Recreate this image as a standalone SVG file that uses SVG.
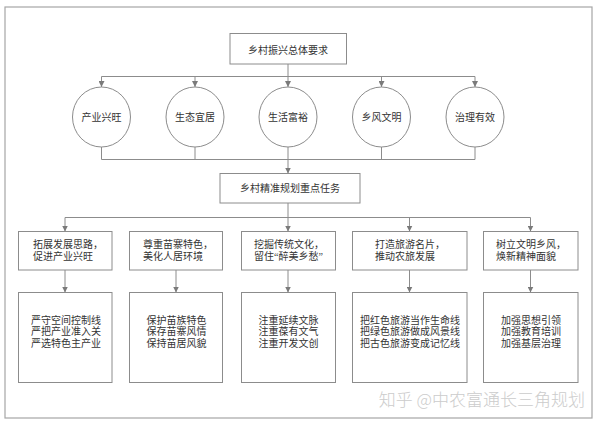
<svg xmlns="http://www.w3.org/2000/svg" width="600" height="425" viewBox="0 0 600 425">
<defs>
<style>
.frame{fill:#ffffff;stroke:#a6a6a6;stroke-width:1.2}
.box{fill:#ffffff;stroke:#8c8c8c;stroke-width:1}
.ln{fill:none;stroke:#8c8c8c;stroke-width:1}
.t{font-family:"Liberation Serif","Noto Sans CJK SC",serif;font-size:10px;fill:#333333}
.c{text-anchor:middle}
.wm{font-family:"Noto Sans CJK SC","Liberation Sans",sans-serif;font-size:17px;font-weight:300;fill:#cccccc;text-anchor:end}
</style>
<marker id="ah" viewBox="0 0 8 8" refX="8" refY="4" markerWidth="6" markerHeight="6" markerUnits="userSpaceOnUse" orient="auto">
<path d="M0,0 L8,4 L0,8 z" fill="#7a7a7a"/>
</marker>
</defs>
<rect width="600" height="425" fill="#ffffff"/>
<rect class="frame" x="5" y="7" width="587" height="411"/>

<g id="connectors">
<path class="ln" d="M288,64 V76.5 M101.5,76.5 H475"/>
<path class="ln" marker-end="url(#ah)" d="M101.5,76.5 V87"/>
<path class="ln" marker-end="url(#ah)" d="M195,76.5 V87"/>
<path class="ln" marker-end="url(#ah)" d="M288,76.5 V87"/>
<path class="ln" marker-end="url(#ah)" d="M381.5,76.5 V87"/>
<path class="ln" marker-end="url(#ah)" d="M475,76.5 V87"/>
<path class="ln" d="M101.5,147 V159.5 M195,147 V159.5 M381.5,147 V159.5 M475,147 V159.5 M101.5,159.5 H475 M288,147 V159.5"/>
<path class="ln" marker-end="url(#ah)" d="M288,159.5 V173.5"/>
<path class="ln" d="M288,203 V217.5 M65,217.5 H530.5"/>
<path class="ln" marker-end="url(#ah)" d="M65,217.5 V231.5"/>
<path class="ln" marker-end="url(#ah)" d="M288,217.5 V231.5"/>
<path class="ln" marker-end="url(#ah)" d="M409.5,217.5 V231.5"/>
<path class="ln" marker-end="url(#ah)" d="M530.5,217.5 V231.5"/>
<path class="ln" marker-end="url(#ah)" d="M65,270 V292.5"/>
<path class="ln" marker-end="url(#ah)" d="M176,270 V292.5"/>
<path class="ln" marker-end="url(#ah)" d="M288,270 V292.5"/>
<path class="ln" marker-end="url(#ah)" d="M409.5,270 V292.5"/>
<path class="ln" marker-end="url(#ah)" d="M530.5,270 V292.5"/>
</g>

<g id="top">
<rect class="box" x="230" y="33.5" width="116.5" height="30.5"/>
<text class="t c" x="288" y="53.5">乡村振兴总体要求</text>
</g>

<g id="c1"><ellipse class="box" cx="101.5" cy="117" rx="29" ry="30"/><text class="t c" x="101.5" y="120.5">产业兴旺</text></g>
<g id="c2"><ellipse class="box" cx="195" cy="117" rx="29" ry="30"/><text class="t c" x="195" y="120.5">生态宜居</text></g>
<g id="c3"><ellipse class="box" cx="288" cy="117" rx="29" ry="30"/><text class="t c" x="288" y="120.5">生活富裕</text></g>
<g id="c4"><ellipse class="box" cx="381.5" cy="117" rx="29" ry="30"/><text class="t c" x="381.5" y="120.5">乡风文明</text></g>
<g id="c5"><ellipse class="box" cx="475" cy="117" rx="29" ry="30"/><text class="t c" x="475" y="120.5">治理有效</text></g>

<g id="mid">
<rect class="box" x="220" y="173.5" width="140" height="29.5"/>
<text class="t c" x="290" y="192">乡村精准规划重点任务</text>
</g>

<g id="r1"><rect class="box" x="18.5" y="231.5" width="93.5" height="38.5"/>
<text class="t" x="33" y="247.8">拓展发展思路，</text><text class="t" x="33" y="259.5">促进产业兴旺</text></g>
<g id="r2"><rect class="box" x="129.5" y="231.5" width="93" height="38.5"/>
<text class="t" x="143" y="247.8">尊重苗寨特色，</text><text class="t" x="143" y="259.5">美化人居环境</text></g>
<g id="r3"><rect class="box" x="241.5" y="231.5" width="94" height="38.5"/>
<text class="t" x="254" y="247.8">挖掘传统文化，</text><text class="t" x="254" y="259.5">留住“醉美乡愁”</text></g>
<g id="r4"><rect class="box" x="352.5" y="231.5" width="114.5" height="38.5"/>
<text class="t" x="375" y="247.8">打造旅游名片，</text><text class="t" x="375" y="259.5">推动农旅发展</text></g>
<g id="r5"><rect class="box" x="483.5" y="231.5" width="94.5" height="38.5"/>
<text class="t" x="496" y="247.8">树立文明乡风，</text><text class="t" x="496" y="259.5">焕新精神面貌</text></g>

<g id="d1"><rect class="box" x="18.5" y="292.5" width="93.5" height="90"/>
<text class="t c" x="66" y="323.5">严守空间控制线</text><text class="t c" x="66" y="335.2">严把产业准入关</text><text class="t c" x="66" y="346.8">严选特色主产业</text></g>
<g id="d2"><rect class="box" x="129.5" y="292.5" width="93" height="90"/>
<text class="t c" x="176.5" y="323.5">保护苗族特色</text><text class="t c" x="176.5" y="335.2">保存苗寨风情</text><text class="t c" x="176.5" y="346.8">保持苗居风貌</text></g>
<g id="d3"><rect class="box" x="241.5" y="292.5" width="94" height="90"/>
<text class="t c" x="288.5" y="323.5">注重延续文脉</text><text class="t c" x="288.5" y="335.2">注重葆有文气</text><text class="t c" x="288.5" y="346.8">注重开发文创</text></g>
<g id="d4"><rect class="box" x="352.5" y="292.5" width="114.5" height="90"/>
<text class="t c" x="410" y="323.5">把红色旅游当作生命线</text><text class="t c" x="410" y="335.2">把绿色旅游做成风景线</text><text class="t c" x="410" y="346.8">把古色旅游变成记忆线</text></g>
<g id="d5"><rect class="box" x="483.5" y="292.5" width="94.5" height="90"/>
<text class="t c" x="531" y="323.5">加强思想引领</text><text class="t c" x="531" y="335.2">加强教育培训</text><text class="t c" x="531" y="346.8">加强基层治理</text></g>

<text class="wm" x="585" y="406">知乎 @中农富通长三角规划</text>
</svg>
